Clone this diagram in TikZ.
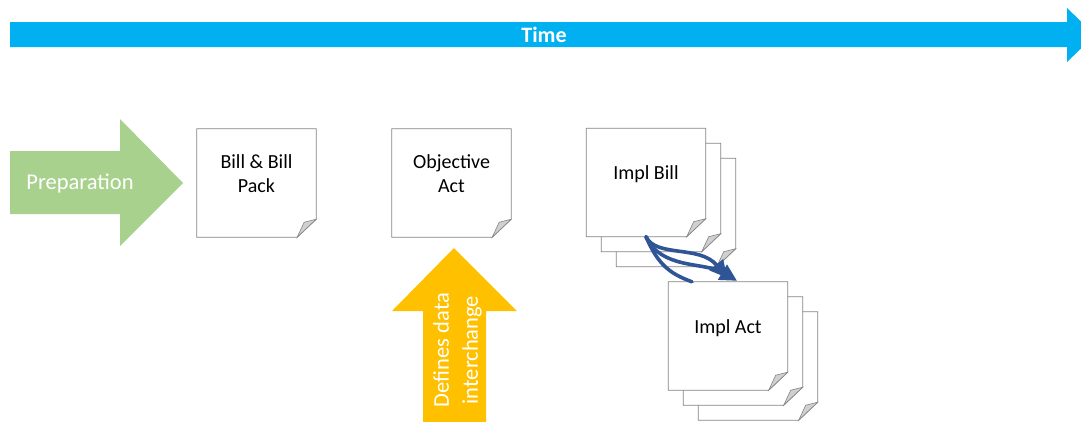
\documentclass[tikz,border=0pt]{standalone}
\usepackage{fontspec}
\setmainfont{Carlito}
\usetikzlibrary{calc,arrows.meta}

\definecolor{timeblue}{HTML}{00B0F0}
\definecolor{prepgreen}{HTML}{A9D18E}
\definecolor{defyellow}{HTML}{FFC000}
\definecolor{flowblue}{HTML}{2F5597}
\definecolor{sheetgray}{HTML}{858585}
\definecolor{foldgray}{HTML}{D0D0D0}

\tikzset{
    sheetbox/.style={minimum width=119pt, minimum height=108pt, inner sep=0pt},
    sheetline/.style={draw=sheetgray, fill=white, line width=0.8pt, line join=miter},
    foldline/.style={draw=sheetgray, fill=foldgray, line width=0.6pt},
    sheettext/.style={align=center, font=\fontsize{20}{24}\selectfont},
    bigtext/.style={align=center, text=white, font=\fontsize{22.5}{29}\selectfont},
    strand/.style={draw=flowblue, line width=3.6pt, line cap=round}
}

% one sheet of paper with a folded corner
\newcommand{\sheet}[2]{
    \node[sheetbox] (#1) at (#2) {};
    \draw[sheetline] (#1.north west) -- (#1.north east) -- ([yshift=18pt]#1.south east)
        -- ([xshift=-19pt]#1.south east) -- (#1.south west) -- cycle;
    \draw[foldline] ([xshift=-19pt]#1.south east) -- ([yshift=18pt]#1.south east)
        -- ([xshift=-12pt,yshift=15pt]#1.south east) -- cycle;
}

\begin{document}
\begin{tikzpicture}[x=1pt, y=-1pt]
        \clip (0, 0) rectangle (1081, 421);
        \fill[white] (0, 0) rectangle (1081, 421);

        \fill[timeblue] (10, 22) -- (1067, 22) -- (1067, 8) -- (1095, 35) -- (1067, 62) -- (1067, 47) -- (10, 47) -- cycle;
        \node[text=white, font=\fontsize{22}{26}\selectfont\bfseries] (time) at (544, 35) {Time};

        \fill[prepgreen] (10, 151) -- (120, 151) -- (120, 119) -- (183, 183) -- (120, 246) -- (120, 214) -- (10, 214) -- cycle;
        \node[bigtext] (prep) at (80, 184) {Preparation};

        \sheet{bill}{256.5, 183}
        \node[sheettext] (billtext) at ([yshift=9pt]bill.center) {Bill \& Bill\\Pack};

        \sheet{objact}{451.5, 183}
        \node[sheettext] (objtext) at ([yshift=9pt]objact.center) {Objective\\Act};

        \fill[defyellow] (454, 248) -- (517, 311) -- (486, 311) -- (486, 425) -- (423, 425) -- (423, 311) -- (392, 311) -- cycle;
        \node[bigtext, rotate=90] (defines) at (457.5, 350) {Defines data\\interchange};

        \sheet{implbill3}{676, 212.5}
        \sheet{implbill2}{661, 197.5}
        \sheet{implbill}{646, 182.5}
        \node[sheettext] (impltext) at ([yshift=8pt]implbill.center) {Impl Bill};

        \sheet{implact3}{758, 366}
        \sheet{implact2}{743, 351}
        \sheet{implact}{728, 336}
        \node[sheettext] (acttext) at ([yshift=8pt]implact.center) {Impl Act};

        \draw[strand] (implbill.south) .. controls +(12, 28) and +(-22, -8) .. ([xshift=-36pt]implact.north);
        \draw[strand, -{Triangle[length=17pt, width=17pt]}] (implbill.south) .. controls +(10, 21) and +(-27, -33) .. ([xshift=-1pt, yshift=4pt]implact.north);
        \draw[strand, -{Triangle[length=17pt, width=17pt]}] (implbill.south) .. controls +(15, 33) and +(-32, -19) .. ([xshift=9pt, yshift=1pt]implact.north);
    \end{tikzpicture}
\end{document}
